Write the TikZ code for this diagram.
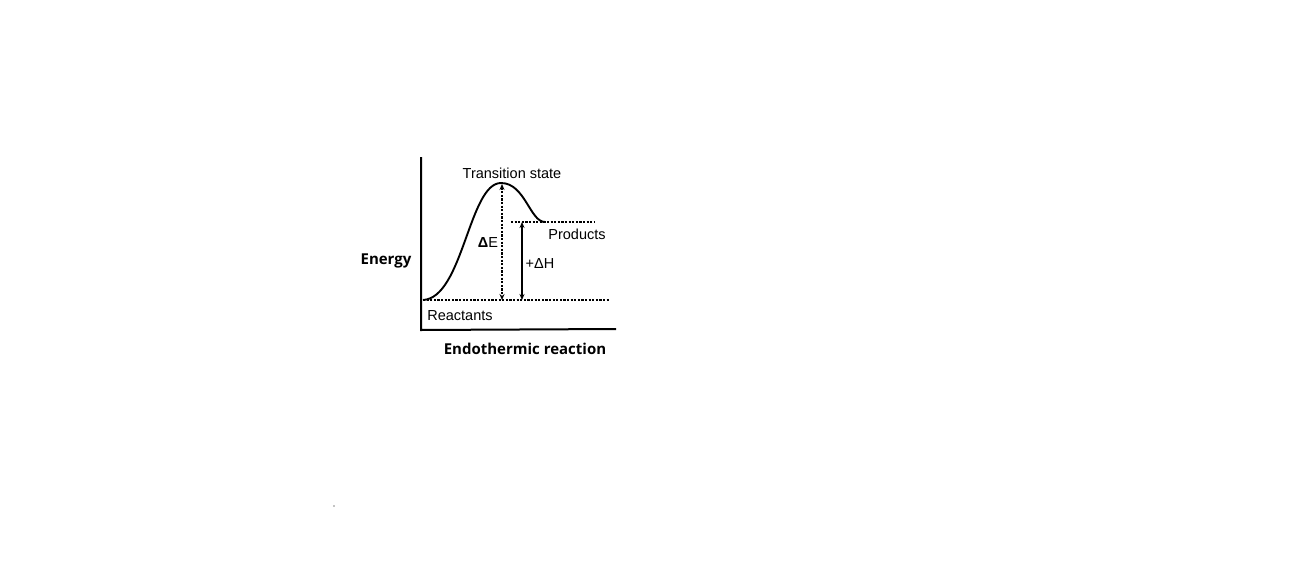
\documentclass[tikz,border=0pt]{standalone}
\usepackage{fontspec}
\setmainfont{Liberation Sans}
\newfontfamily\boldlab{Open Sans}
\usetikzlibrary{arrows.meta}
\begin{document}
\begin{tikzpicture}[x=1pt,y=-1pt,
  axis/.style={line width=2pt},
  lvl/.style={line width=1.6pt, dash pattern=on 2.2pt off 1.4pt},
  lab/.style={font=\fontsize{14.5}{16}\selectfont, inner sep=0pt},
  blab/.style={font=\boldlab\bfseries\fontsize{15}{16}\selectfont, inner sep=0pt},
  dbl/.style={{Stealth[length=6pt,width=5pt]}-{Stealth[length=6pt,width=5pt]}, line width=1.5pt}]
\useasboundingbox (0,0) rectangle (1297,562);
% axes
\coordinate (ytop) at (421,157);
\coordinate (orig) at (421,330);
\coordinate (xend) at (616,329);
\draw[axis] (ytop) -- (orig) -- (xend);
% levels
\coordinate (rl) at (423,300);
\coordinate (rr) at (610,300);
\coordinate (pl) at (511,222);
\coordinate (pr) at (594,222);
\draw[lvl] (rl) -- (rr);
\draw[lvl] (pl) -- (pr);
% curve
\coordinate (peak) at (501,183);
\coordinate (pend) at (545,222);
\draw[line width=1.9pt] (rl) .. controls (463,298) and (469,183) .. (peak)
  .. controls (525,183) and (530,222) .. (pend);
% arrows
\coordinate (eTop) at (502,184);
\coordinate (eBot) at (502,300);
\draw[dbl, dash pattern=on 2.2pt off 1.4pt] (eTop) -- (eBot);
\coordinate (hTop) at (522,222);
\coordinate (hBot) at (522,300);
\draw[dbl] (hTop) -- (hBot);
% labels
\node[lab] (ts) at (512,173) {Transition state};
\node[lab] (prod) at (577,234) {Products};
\node[lab] (de) at (488,243) {{\bfseries Δ}E};
\node[lab] (dh) at (540,264) {+ΔH};
\node[lab] (react) at (460,316) {Reactants};
\node[blab] (energy) at (386,261) {Energy};
\node[blab] (endo) at (525,349) {Endothermic reaction};
\fill (334,506) circle (0.6pt);
\end{tikzpicture}
\end{document}
